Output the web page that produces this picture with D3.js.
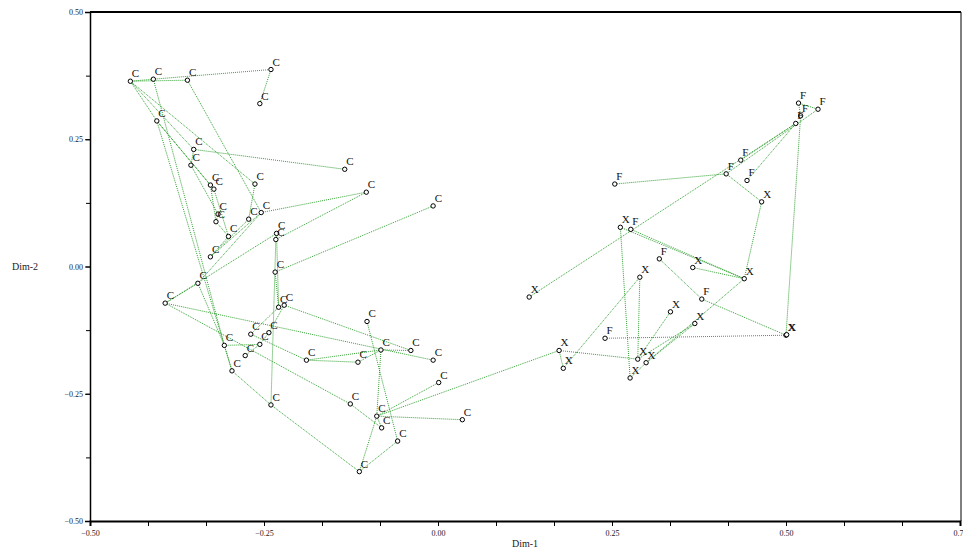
<!DOCTYPE html>
<html><head><meta charset="utf-8">
<script src="https://cdn.jsdelivr.net/npm/d3@7"></script>
<style>
html,body{margin:0;padding:0;background:#fff;}
svg{display:block;}
.tick text{font-family:"Liberation Serif",serif;font-size:8px;fill:#222;}
</style></head>
<body>
<svg id="chart" width="963" height="551"></svg>
<script>
// ---- data ----
const ids = ["c1","c2","c3","c4","c5","c6","c7","c8","c9","c10","c11","c12","c13","c14","c15","c16","c17","c18","c19","c20","c21","c22","c23","c24","c25","c26","c27","c28","c29","c30","c31","c32","c33","c34","c35","c36","c37","c38","c39","c40","c41","c42","c43","c44","c45","c46","c47",
  "f1","x1","f2","f3","f4","f5","f6","f7","f8","f9","x2","f10","x3","x4","x5","f11","x6","x7","f12","x8","x8b","x9","x10","x11","x12","x13","x14"];
const labels = ["C","C","C","C","C","C","C","C","C","C","C","C","C","C","C","C","C","C","C","C","C","C","C","C","C","C","C","C","C","C","C","C","C","C","C","C","C","C","C","C","C","C","C","C","C","C","C",
  "F","X","F","F","F","F","F","F","F","F","X","F","X","X","X","F","X","X","F","X","X","X","X","X","X","X","X"];
const dim1 = [-0.442,-0.409,-0.360,-0.240,-0.256,-0.404,-0.351,-0.355,-0.327,-0.322,-0.263,-0.134,-0.103,-0.007,-0.316,-0.319,-0.272,-0.254,-0.301,-0.232,-0.233,-0.327,-0.234,-0.345,-0.392,-0.229,-0.221,-0.307,-0.269,-0.277,-0.256,-0.243,-0.296,-0.240,-0.189,-0.102,-0.082,-0.039,-0.007,-0.115,0.001,-0.126,-0.088,-0.081,0.035,-0.058,-0.113,
  0.254,0.262,0.277,0.518,0.546,0.521,0.514,0.435,0.414,0.444,0.465,0.318,0.366,0.440,0.290,0.379,0.334,0.369,0.240,0.500,0.501,0.287,0.299,0.276,0.131,0.174,0.180];
const dim2 = [0.364,0.368,0.366,0.387,0.320,0.286,0.230,0.199,0.160,0.152,0.162,0.191,0.146,0.119,0.103,0.088,0.093,0.106,0.059,0.065,0.053,0.019,-0.011,-0.033,-0.072,-0.080,-0.076,-0.155,-0.133,-0.175,-0.153,-0.130,-0.205,-0.272,-0.184,-0.108,-0.164,-0.165,-0.184,-0.188,-0.228,-0.270,-0.294,-0.317,-0.301,-0.343,-0.403,
  0.162,0.077,0.073,0.321,0.309,0.296,0.281,0.209,0.182,0.169,0.127,0.015,-0.002,-0.024,-0.021,-0.064,-0.089,-0.112,-0.141,-0.135,-0.134,-0.182,-0.189,-0.219,-0.060,-0.165,-0.200];
const links = [
  ["c1","c2"],["c1","c3"],["c2","c4"],["c4","c5"],["c1","c6"],["c6","c10"],["c6","c9"],["c1","c11"],["c1","c7"],["c3","c18"],
  ["c2","c28"],["c6","c33"],["c7","c12"],["c7","c8"],["c8","c15"],["c9","c16"],["c10","c19"],["c11","c17"],
  ["c18","c13"],["c18","c22"],["c18","c24"],["c17","c22"],["c16","c19"],["c15","c16"],["c19","c22"],["c20","c21"],
  ["c21","c13"],["c23","c14"],["c25","c20"],["c25","c24"],["c21","c34"],["c20","c26"],["c23","c26"],["c27","c38"],
  ["c25","c39"],["c25","c42"],["c34","c47"],["c28","c31"],["c24","c28"],["c28","c33"],["c33","c34"],["c29","c35"],
  ["c30","c31"],["c31","c32"],["c32","c27"],["c26","c29"],["c35","c37"],["c35","c40"],["c37","c38"],["c37","c43"],
  ["c36","c46"],["c42","c44"],["c43","c45"],["c43","c41"],["c43","x13"],["c47","c43"],["c47","c46"],["c44","c43"],["c40","c37"],
  ["f1","f8"],["x12","f6"],["f8","f4"],["f7","f6"],["f9","f6"],["f8","x2"],["f3","f4"],["f3","f5"],["f5","x8"],
  ["x2","x4"],["f2","x4"],["x1","x4"],["x3","x4"],["x1","x11"],["x4","x10"],["x5","x14"],["x13","x9"],["f12","x8"],
  ["x9","x7"],["x10","x7"],["x9","x6"],["x11","x10"],["x5","x9"],["f10","f11"],["f11","x8"],["x8","x8b"],["x14","x13"]
];
const xTicks = [-0.5,-0.25,0,0.25,0.5,0.75];
const yTicks = [-0.5,-0.25,0,0.25,0.5];
const xTitle = "Dim-1", yTitle = "Dim-2";

// ---- drawing ----
const svg = d3.select("#chart");
const x = d3.scaleLinear().domain([-0.5,0.75]).range([90,960]);
const y = d3.scaleLinear().domain([-0.5,0.5]).range([521,12]);
const fmt = d3.format(".2f");

const pts = ids.map((id,i)=>({id,label:labels[i],x:dim1[i],y:dim2[i]}));
const byId = new Map(pts.map(p=>[p.id,p]));

// frame
svg.append("line").attr("x1",90).attr("x2",961).attr("y1",12).attr("y2",12).attr("stroke","#000").attr("stroke-width",2);
svg.append("line").attr("x1",961).attr("x2",961).attr("y1",12).attr("y2",521).attr("stroke","#000").attr("stroke-width",1);

// axes
const minorX = d3.range(-0.5,0.76,0.25/3);
const minorY = d3.range(-0.5,0.51,0.125);
svg.append("g").attr("transform","translate(0,521)")
  .call(d3.axisBottom(x).tickValues(minorX).tickSize(5).tickFormat(""))
  .call(g=>g.select(".domain").remove());
svg.append("g").attr("transform","translate(0,521)")
  .call(d3.axisBottom(x).tickValues(xTicks).tickSize(5).tickFormat(fmt).tickPadding(4))
  .call(g=>g.select(".domain").attr("stroke-width",2));
svg.append("g").attr("transform","translate(90,0)")
  .call(d3.axisLeft(y).tickValues(minorY).tickSize(4).tickFormat(""))
  .call(g=>g.select(".domain").remove());
svg.append("g").attr("transform","translate(90,0)")
  .call(d3.axisLeft(y).tickValues(yTicks).tickSize(5).tickFormat(fmt).tickPadding(2))
  .call(g=>g.select(".domain").attr("stroke-width",1.5));

svg.append("text").attr("x",525).attr("y",547).attr("text-anchor","middle")
  .attr("font-family","Liberation Serif").attr("font-size",10).attr("fill","#222").text(xTitle);
svg.append("text").attr("x",25).attr("y",270).attr("text-anchor","middle")
  .attr("font-family","Liberation Serif").attr("font-size",10).attr("fill","#222").text(yTitle);

// links
svg.append("g").selectAll("line").data(links).join("line")
  .attr("x1",d=>x(byId.get(d[0]).x)).attr("y1",d=>y(byId.get(d[0]).y))
  .attr("x2",d=>x(byId.get(d[1]).x)).attr("y2",d=>y(byId.get(d[1]).y))
  .attr("stroke","#1f9a1f").attr("stroke-width",1).attr("stroke-dasharray","1,1").attr("opacity",0.9);

// points
const g = svg.append("g");
g.selectAll("circle").data(pts).join("circle")
  .attr("cx",d=>x(d.x)).attr("cy",d=>y(d.y)).attr("r",2.2)
  .attr("fill","#fff").attr("stroke","#000").attr("stroke-width",1);
g.selectAll("text").data(pts).join("text")
  .attr("x",d=>x(d.x)+1.5).attr("y",d=>y(d.y)-4)
  .attr("font-family","Liberation Serif").attr("font-size",11).attr("fill","#111")
  .text(d=>d.label);
</script>
</body></html>
